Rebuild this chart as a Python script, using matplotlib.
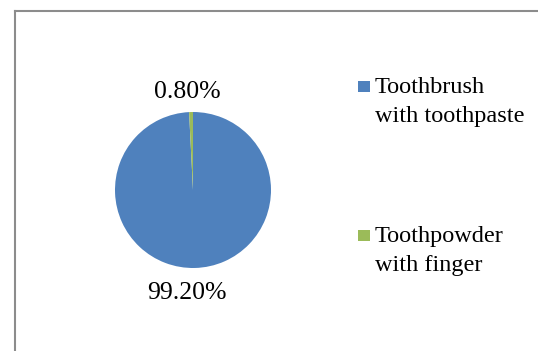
import matplotlib.pyplot as plt
from matplotlib.patches import Rectangle
from matplotlib.lines import Line2D

labels = ["Toothbrush\nwith toothpaste", "Toothpowder\nwith finger"]
shares = [99.2, 0.8]
colors = ["#4F81BD", "#9BBB59"]

plt.rcParams["font.family"] = ["Liberation Serif", "DejaVu Serif"]

W, H = 538, 351
fig = plt.figure(figsize=(W / 100, H / 100), dpi=100)

# chart frame (clipped at the right and bottom edges)
fig.add_artist(Line2D([14.5 / W, 1], [1 - 10.5 / H, 1 - 10.5 / H], color="#8c8c8c", lw=1.5))
fig.add_artist(Line2D([14.5 / W, 14.5 / W], [0, 1 - 10.5 / H], color="#8c8c8c", lw=1.5))

# pie area in pixel units
cx, cy, r = 193, 190, 78
ax = fig.add_axes([(cx - r) / W, 1 - (cy + r) / H, 2 * r / W, 2 * r / H])
wedges, _ = ax.pie(shares, colors=colors, startangle=90, counterclock=False,
                   radius=1, wedgeprops=dict(linewidth=0))
ax.set_xlim(-1, 1)
ax.set_ylim(-1, 1)
ax.set_aspect("equal")
ax.axis("off")

# percentage labels (baseline positions)
label_pos = [(187, 299), (187, 98)]
for v, (x, y) in zip(shares, label_pos):
    fig.text(x / W, 1 - y / H, f"{v:.2f}%", ha="center", va="baseline", fontsize=18.5)

# legend
legend_y = [93, 242]
line_gap = 29
for lab, col, y in zip(labels, colors, legend_y):
    fig.add_artist(Rectangle((358 / W, 1 - (y - 1) / H), 12 / W, 11 / H,
                             facecolor=col, edgecolor="none"))
    for i, line in enumerate(lab.split("\n")):
        fig.text(375 / W, 1 - (y + i * line_gap) / H, line, ha="left", va="baseline",
                 fontsize=17.5)

fig.savefig("out.png", dpi=100)
